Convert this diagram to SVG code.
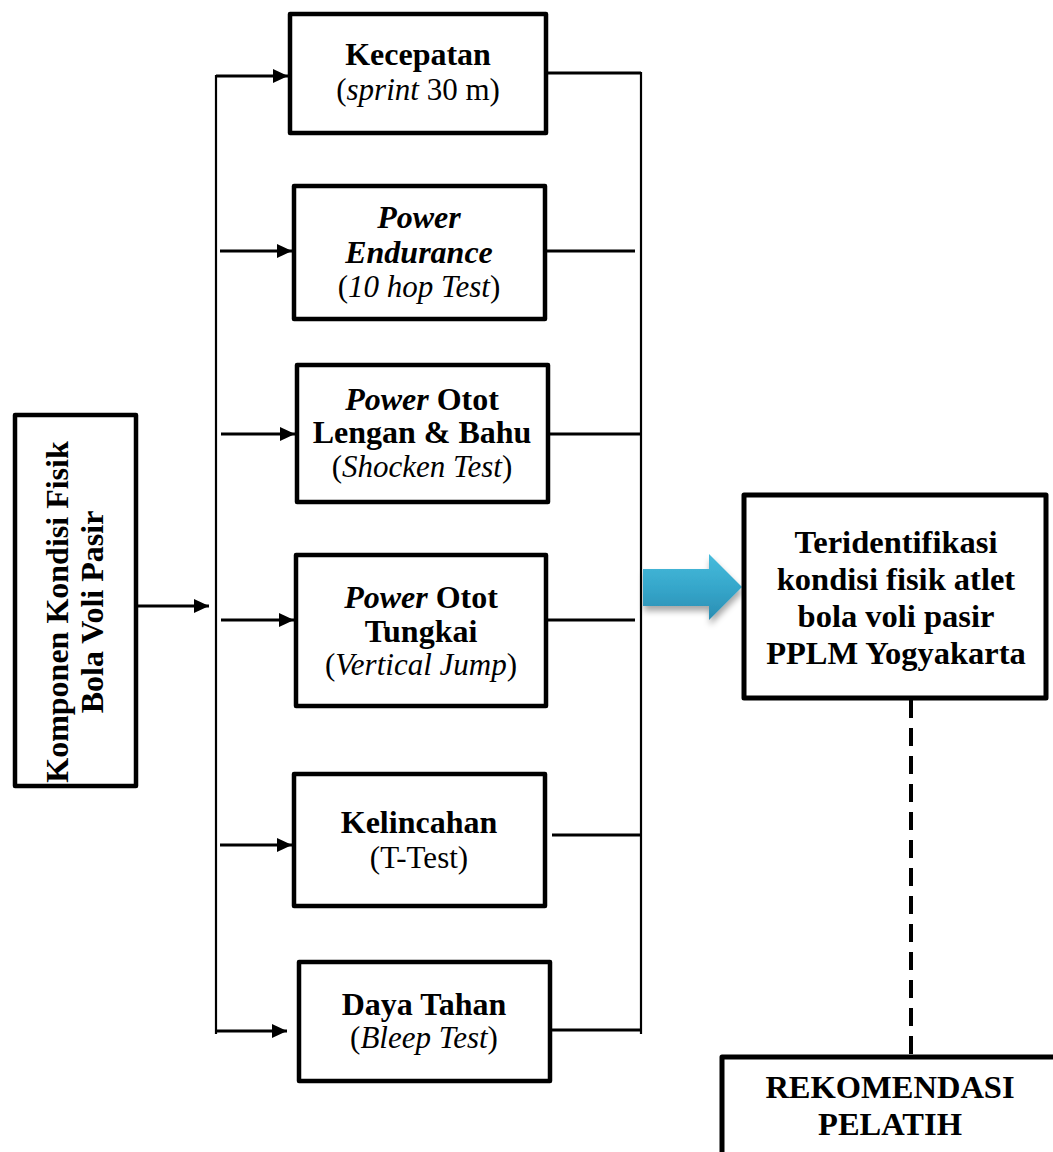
<svg xmlns="http://www.w3.org/2000/svg" width="1053" height="1152" viewBox="0 0 1053 1152">
<style>
.box{fill:#fff;stroke:#000;stroke-width:4.5;stroke-linejoin:round}
.t{font-family:"Liberation Serif","Times New Roman",serif;font-size:31px;fill:#000;text-anchor:middle}
.b{font-weight:bold;font-size:32px}
.i{font-style:italic}
.big{font-size:32.5px}
.ln{fill:none;stroke:#000;stroke-width:3}
.bus{fill:none;stroke:#000;stroke-width:2.2}
.arr{fill:none;stroke:#000;stroke-width:3;marker-end:url(#ah)}
</style>
<defs>
<marker id="ah" markerUnits="userSpaceOnUse" markerWidth="16" markerHeight="14" refX="15" refY="7" orient="auto">
<path d="M0,0 L15,7 L0,14 Z" fill="#000"/>
</marker>
<linearGradient id="bg" x1="0" y1="0" x2="0" y2="1">
<stop offset="0" stop-color="#47bcdc"/>
<stop offset="0.5" stop-color="#36a7cb"/>
<stop offset="1" stop-color="#2a8db2"/>
</linearGradient>
<filter id="sh" x="-20%" y="-20%" width="150%" height="160%">
<feDropShadow dx="1" dy="5" stdDeviation="3" flood-color="#000" flood-opacity="0.35"/>
</filter>
</defs>
<rect width="1053" height="1152" fill="#fff"/>

<g id="connectors">
<line class="bus" x1="216" y1="75" x2="216" y2="1034"/>
<line class="bus" x1="641" y1="72" x2="641" y2="1034"/>
<line class="arr" x1="138" y1="606" x2="209" y2="606"/>
<polyline class="arr" points="216,76 288,76"/>
<line class="arr" x1="220" y1="251" x2="292" y2="251"/>
<line class="arr" x1="221" y1="434" x2="295" y2="434"/>
<line class="arr" x1="221" y1="620" x2="294" y2="620"/>
<line class="arr" x1="220" y1="845" x2="292" y2="845"/>
<line class="arr" x1="216" y1="1031" x2="287" y2="1031"/>
<line class="ln" x1="548" y1="73" x2="641" y2="73"/>
<line class="ln" x1="547" y1="251" x2="635" y2="251"/>
<line class="ln" x1="550" y1="434" x2="641" y2="434"/>
<line class="ln" x1="548" y1="620" x2="635" y2="620"/>
<line class="ln" x1="552" y1="835" x2="641" y2="835"/>
<line class="ln" x1="552" y1="1030" x2="641" y2="1030"/>
<line x1="911" y1="700" x2="911" y2="1056" stroke="#000" stroke-width="4" stroke-dasharray="18 10"/>
<path d="M643,569 H709 V554 L742,587 L709,620 V606 H643 Z" fill="url(#bg)" filter="url(#sh)"/>
</g>

<g id="n-komponen">
<rect class="box" x="15" y="415" width="121" height="371"/>
<text class="t b" transform="translate(68,612) rotate(-90)">Komponen Kondisi Fisik</text>
<text class="t b" transform="translate(103,612) rotate(-90)">Bola Voli Pasir</text>
</g>

<g id="n-kecepatan">
<rect class="box" x="290" y="14" width="256" height="119"/>
<text class="t b" x="418" y="65">Kecepatan</text>
<text class="t" x="418" y="100">(<tspan class="i">sprint</tspan> 30 m)</text>
</g>

<g id="n-endurance">
<rect class="box" x="294" y="186" width="251" height="133"/>
<text class="t b i" x="419" y="228">Power</text>
<text class="t b i" x="419" y="263">Endurance</text>
<text class="t" x="419" y="297">(<tspan class="i">10 hop Test</tspan>)</text>
</g>

<g id="n-lengan">
<rect class="box" x="297" y="365" width="251" height="137"/>
<text class="t b" x="422" y="410"><tspan class="i">Power</tspan> Otot</text>
<text class="t b" x="422" y="443">Lengan &amp; Bahu</text>
<text class="t" x="422" y="477">(<tspan class="i">Shocken Test</tspan>)</text>
</g>

<g id="n-tungkai">
<rect class="box" x="296" y="555" width="250" height="151"/>
<text class="t b" x="421" y="608"><tspan class="i">Power</tspan> Otot</text>
<text class="t b" x="421" y="642">Tungkai</text>
<text class="t" x="421" y="675">(<tspan class="i">Vertical Jump</tspan>)</text>
</g>

<g id="n-kelincahan">
<rect class="box" x="294" y="774" width="251" height="132"/>
<text class="t b" x="419" y="833">Kelincahan</text>
<text class="t" x="419" y="868">(T-Test)</text>
</g>

<g id="n-dayatahan">
<rect class="box" x="299" y="962" width="251" height="119"/>
<text class="t b" x="424" y="1015">Daya Tahan</text>
<text class="t" x="424" y="1048">(<tspan class="i">Bleep Test</tspan>)</text>
</g>

<g id="n-teridentifikasi">
<rect class="box" x="744" y="495" width="302" height="203" style="stroke-width:5"/>
<text class="t b big" x="896" y="553">Teridentifikasi</text>
<text class="t b big" x="896" y="590">kondisi fisik atlet</text>
<text class="t b big" x="896" y="627">bola voli pasir</text>
<text class="t b big" x="896" y="664">PPLM Yogyakarta</text>
</g>

<g id="n-rekomendasi">
<rect class="box" x="722" y="1057" width="400" height="200" style="stroke-width:5"/>
<text class="t b big" x="890" y="1098">REKOMENDASI</text>
<text class="t b big" x="890" y="1135">PELATIH</text>
</g>
</svg>
